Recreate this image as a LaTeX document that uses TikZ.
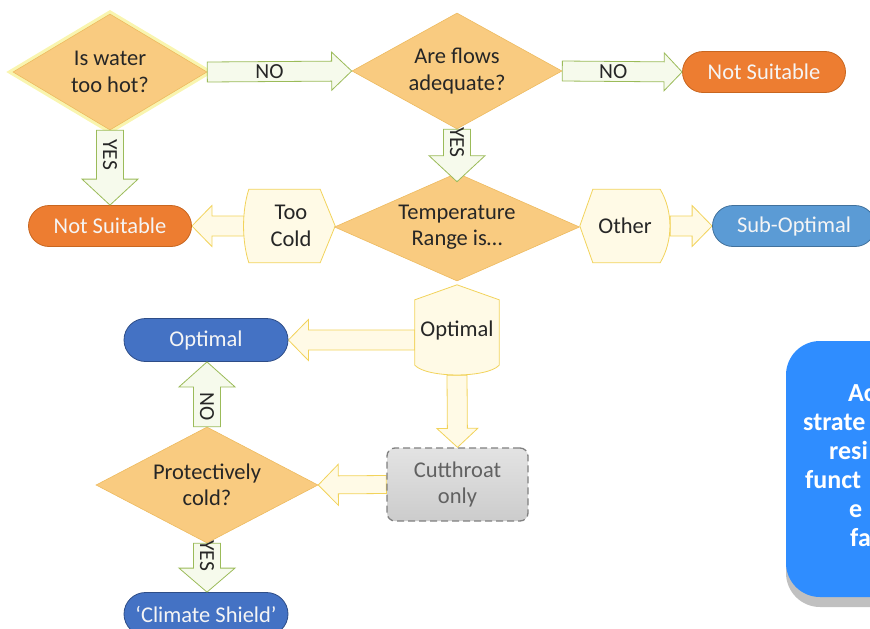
\documentclass[tikz,border=0pt]{standalone}
\usepackage{fontspec}
\setmainfont{Carlito}
\usetikzlibrary{shapes.geometric,shapes.misc,calc,backgrounds,shadows}

\definecolor{diamondFill}{HTML}{F9CB80}
\definecolor{diamondLine}{HTML}{EDBB60}
\definecolor{orangeFill}{HTML}{ED7D31}
\definecolor{orangeLine}{HTML}{C8661F}
\definecolor{skyFill}{HTML}{5B9BD5}
\definecolor{skyLine}{HTML}{41719C}
\definecolor{navyFill}{HTML}{4472C4}
\definecolor{navyLine}{HTML}{2E4D87}
\definecolor{creamFill}{HTML}{FFFAE6}
\definecolor{creamLine}{HTML}{F2D35B}
\definecolor{greenFill}{HTML}{F6FAEC}
\definecolor{greenLine}{HTML}{9BBB59}
\definecolor{textDark}{HTML}{262626}
\definecolor{noteBlue}{HTML}{2F8DFF}
\definecolor{glowYellow}{HTML}{F5EE7A}

%% block arrow between two points: style, from, to, label options, label
\newcommand\fatArrow[5]{%
  \draw[#1] let \p1=(#2), \p2=(#3),
      \n1={atan2(\y2-\y1,\x2-\x1)}, \n2={veclen(\x2-\x1,\y2-\y1)} in
    {[shift={(\p1)}, rotate=\n1]
    (0,\shaftHalf) -- ({\n2-\headLen},\shaftHalf) -- ({\n2-\headLen},\headHalf)
    -- (\n2,0) -- ({\n2-\headLen},-\headHalf) -- ({\n2-\headLen},-\shaftHalf)
    -- (0,-\shaftHalf) -- cycle
    ({(\n2-\headLen)/2},0) node[arrowLabel,#4] {#5}};
}

\begin{document}
\begin{tikzpicture}
[x=1pt,y=1pt,
  shaftHalf/.store in=\shaftHalf,
  headHalf/.store in=\headHalf,
  headLen/.store in=\headLen,
  bigText/.style={font=\fontsize{22.5}{26.5}\selectfont},
  decisionNode/.style={shape=diamond,draw=diamondLine,fill=diamondFill,line width=0.6pt,
    inner sep=0pt,align=center,text=textDark,bigText},
  glow/.style={preaction={draw=glowYellow,line width=7pt,opacity=0.6}},
  pillNode/.style={shape=rounded rectangle,line width=0.8pt,minimum width=163pt,
    minimum height=41pt,inner sep=0pt,text=white!96!black,bigText},
  orangePill/.style={pillNode,draw=orangeLine,fill=orangeFill},
  skyPill/.style={pillNode,draw=skyLine,fill=skyFill},
  navyPill/.style={pillNode,draw=navyLine,fill=navyFill,minimum width=164pt,minimum height=43pt},
  sideNode/.style={inner sep=0pt,align=center,text=textDark,bigText},
  sideShape/.style={draw=creamLine,fill=creamFill,line width=0.8pt},
  arrowLabel/.style={inner sep=0pt,text=textDark,font=\fontsize{21.5}{23}\selectfont},
  greenArrow/.style={draw=greenLine,fill=greenFill,line width=0.8pt,
    shaftHalf=10,headHalf=19,headLen=20},
  wide/.style={shaftHalf=13.5,headHalf=28,headLen=26},
  creamArrow/.style={draw=creamLine,fill=creamFill,line width=0.8pt,
    shaftHalf=10,headHalf=20.5,headLen=20},
  noteText/.style={inner sep=0pt,text=white,font=\fontsize{26}{29}\selectfont\bfseries}]
\useasboundingbox (0,0) rectangle (870,-629);
\clip (0,0) rectangle (870,-629);

%% decisions
\node (hot) at (110,-72) [decisionNode,glow,aspect=1.67,minimum width=194pt,minimum height=116pt]
  {Is water\\too hot?};
\node (flows) at (457,-71) [decisionNode,aspect=1.81,minimum width=210pt,minimum height=116pt]
  {Are flows\\adequate?};
\node (range) at (457,-227) [decisionNode,aspect=2.27,minimum width=245pt,minimum height=108pt]
  {Temperature\\Range is…};
\node (protect) at (207,-485) [decisionNode,aspect=1.91,minimum width=222pt,minimum height=116pt]
  {Protectively\\cold?};

%% outcomes
\node (unsuitA) at (764,-72) [orangePill] {Not Suitable};
\node (unsuitB) at (110,-226) [orangePill] {Not Suitable};
\node (subopt) at (794,-226) [skyPill] {Sub-Optimal};
\node (optimal) at (206,-340) [navyPill] {Optimal};
\node (shield) at (206,-614) [navyPill] {‘Climate Shield’};

%% temperature branches
\node (cold) at (291,-226) [sideNode,minimum width=88pt,minimum height=73pt] {Too\\Cold};
\node (other) at (625,-226) [sideNode,minimum width=90pt,minimum height=73pt] {Other};
\node (optBox) at (457,-330) [sideNode,minimum width=84pt,minimum height=90pt] {Optimal};

\node (cutthroat) at (457.5,-484.5) [draw=black!50,dash pattern=on 7pt off 4pt,line width=1.3pt,
  rounded corners=8pt,top color=black!11,bottom color=black!20,minimum width=141pt,
  minimum height=73pt,inner sep=0pt,align=center,text=black!62,bigText] {Cutthroat\\only};

%% side note
\node (note) at (846,-469) [fill=noteBlue,rounded corners=34pt,minimum width=120pt,
  minimum height=256pt,drop shadow={shadow xshift=0pt,shadow yshift=-10pt,opacity=0.45,fill=black!55}] {};
\foreach \frag/\x/\y [count=\i] in {Ac/848/401, strate/803/430, resi/829/459,
  funct/805/488, e/849/517, fa/850/546}
{
  \node (note\i) [noteText,anchor=base west] at (\x,-\y) {\frag};
}

%% green arrows
\fatArrow{greenArrow}{hot.east}{flows.west}{}{NO}
\fatArrow{greenArrow,headLen=18}{flows.east}{unsuitA.west}{}{NO}
\fatArrow{greenArrow,wide}{hot.south}{unsuitB.north}{rotate=-90}{YES}
\fatArrow{greenArrow,wide}{flows.south}{$(range.north)+(0,-9)$}{rotate=-90}{YES}
\fatArrow{greenArrow,wide,headLen=25}{protect.north}{protect.north |- optimal.south}{rotate=-90}{NO}
\fatArrow{greenArrow,wide,headLen=24}{protect.south}{protect.south |- shield.north}{rotate=-90}{YES}

\begin{scope}[on background layer]
%% cream arrows
\fatArrow{creamArrow}{cold.west}{unsuitB.east}{}{}
\fatArrow{creamArrow}{other.east}{subopt.west}{}{}
\fatArrow{creamArrow}{optimal.east -| optBox.west}{optimal.east}{}{}
\fatArrow{creamArrow,headLen=19}{optBox.south}{cutthroat.north}{}{}
\fatArrow{creamArrow,shaftHalf=9}{cutthroat.west}{protect.east}{}{}

%% branch outlines
\draw[sideShape] ([xshift=2pt]cold.north west) -- ([xshift=-15pt]cold.north east)
  -- (cold.east) -- ([xshift=-15pt]cold.south east) -- ([xshift=2pt]cold.south west)
  .. controls +(-7,22) and +(-7,-22) .. ([xshift=2pt]cold.north west) -- cycle;
\draw[sideShape] (other.west) -- ([xshift=13pt]other.north west)
  -- ([xshift=-10pt]other.north east)
  .. controls +(13,-22) and +(13,22) .. ([xshift=-10pt]other.south east)
  -- ([xshift=13pt]other.south west) -- cycle;
\draw[sideShape] ([yshift=-15pt]optBox.north west) -- (optBox.north)
  -- ([yshift=-15pt]optBox.north east) -- ([yshift=10pt]optBox.south east)
  .. controls +(-12,-13) and +(12,-13) .. ([yshift=10pt]optBox.south west) -- cycle;
\end{scope}
\end{tikzpicture}
\end{document}
